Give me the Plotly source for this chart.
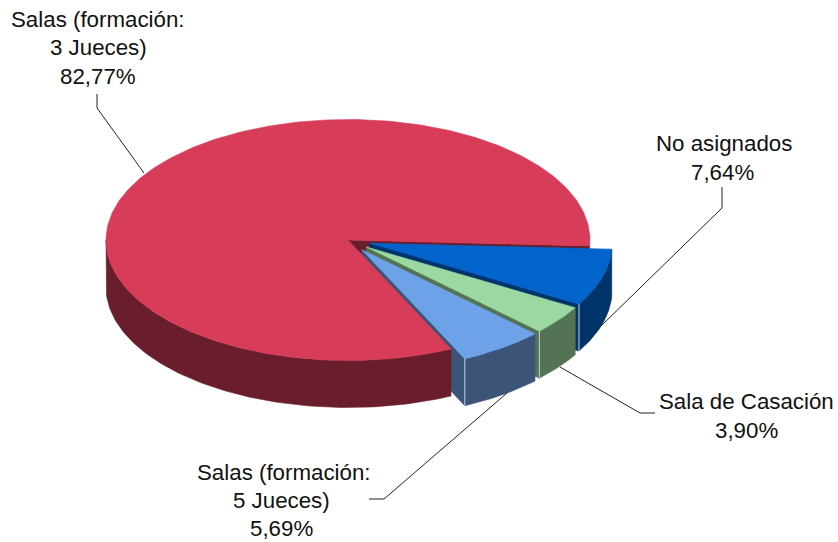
import numpy as np
import plotly.graph_objects as go

# Data
categories = ["No asignados", "Sala de Casación", "Salas (formación: 5 Jueces)", "Salas (formación: 3 Jueces)"]
shares = [7.64, 3.90, 5.69, 82.77]
label_lines = [["No asignados", "7,64%"], ["Sala de Casación", "3,90%"],
               ["Salas (formación:", "5 Jueces)", "5,69%"], ["Salas (formación:", "3 Jueces)", "82,77%"]]
top_colors = ["#0064CC", "#9CD9A2", "#6DA2E8", "#D73C58"]
wall_colors = ["#00346B", "#537354", "#3C5478", "#6A1E2D"]

# Projection of the pie (pixel scale of the axes)
CX, CY, RX, RY, DEPTH = 348.0, 240.0, 242.0, 120.5, 47.0
START = 2.8
EXPLODE = [23.0, 23.0, 24.0, 0.0]

W, H = 838, 542
LINE_C = "#222222"

spans = [s * 3.6 for s in shares]
starts = START + np.concatenate([[0], np.cumsum(spans)[:-1]])
ends = starts + np.array(spans)


def origin(i):
    mid = np.radians((starts[i] + ends[i]) / 2)
    return CX + EXPLODE[i] * np.cos(mid), CY + EXPLODE[i] * RY / RX * np.sin(mid)


def arc(i, a0, a1, n=120):
    ox, oy = origin(i)
    t = np.radians(np.linspace(a0, a1, n))
    return ox + RX * np.cos(t), oy + RY * np.sin(t)


def poly(fig, x, y, color, name):
    fig.add_trace(go.Scatter(x=list(x) + [x[0]], y=list(y) + [y[0]], mode="lines", fill="toself",
                             fillcolor=color, line=dict(color=color, width=0.6),
                             name=name, hoverinfo="name", showlegend=False))


def outer_wall(fig, i, a0, a1):
    x, y = arc(i, a0, a1)
    poly(fig, np.r_[x, x[::-1]], np.r_[y, y[::-1] + DEPTH], wall_colors[i], categories[i])


def cut_wall(fig, i, a):
    ox, oy = origin(i)
    ex, ey = arc(i, a, a, 1)
    poly(fig, [ox, ex[0], ex[0], ox], [oy, ey[0], ey[0] + DEPTH, oy + DEPTH], wall_colors[i], categories[i])


def top(fig, i):
    ox, oy = origin(i)
    x, y = arc(i, starts[i], ends[i], 300)
    poly(fig, np.r_[ox, x], np.r_[oy, y], top_colors[i], categories[i])


fig = go.Figure()
R = 3

cut_wall(fig, R, ends[R])
for i in range(3):
    cut_wall(fig, i, ends[i])
outer_wall(fig, R, starts[R], 180)
top(fig, R)
for i in range(3):
    outer_wall(fig, i, starts[i], ends[i])
    top(fig, i)
    ex, ey = arc(i, ends[i], ends[i], 1)
    fig.add_trace(go.Scatter(x=[ex[0], ex[0]], y=[ey[0], ey[0] + DEPTH], mode="lines",
                             line=dict(color="#C9D2DE", width=1), hoverinfo="skip", showlegend=False))

leaders = [
    ([722, 722, 600], [187, 208, 327]),
    ([655, 640, 560], [413, 413, 367]),
    ([369, 384, 507], [499, 499, 393]),
    ([97, 97, 144], [94, 108, 173]),
]
for lx, ly in leaders:
    fig.add_trace(go.Scatter(x=lx, y=ly, mode="lines", line=dict(color=LINE_C, width=1),
                             hoverinfo="skip", showlegend=False))

label_pos = [
    [(724, 143), (722, 172)],
    [(746, 401), (746, 430)],
    [(284, 472), (281, 500), (281, 528)],
    [(98, 19), (98, 47), (98, 76)],
]
for lines, pos in zip(label_lines, label_pos):
    for t, (px, py) in zip(lines, pos):
        fig.add_annotation(x=px, y=py, text=t, showarrow=False, xanchor="center", yanchor="middle",
                           font=dict(family="Liberation Sans, Arial, sans-serif", size=22.3, color="#111111"))

fig.update_layout(width=W, height=H, margin=dict(l=0, r=0, t=0, b=0), autosize=False,
                  paper_bgcolor="white", plot_bgcolor="white", showlegend=False,
                  xaxis=dict(range=[0, W], visible=False, fixedrange=True),
                  yaxis=dict(range=[H, 0], visible=False, fixedrange=True))
fig.write_html("out.html", config={"displayModeBar": False},
               post_script="document.body.style.margin='0';document.documentElement.style.overflow='hidden';")
